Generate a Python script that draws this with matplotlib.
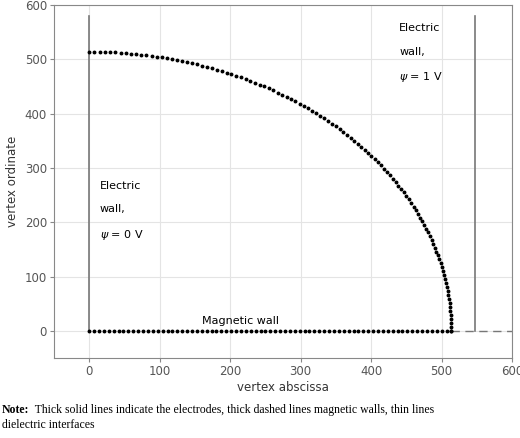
import numpy as np
import matplotlib
matplotlib.use("Agg")
import matplotlib.pyplot as plt

radius = 514
n_arc = 110
n_base = 75
electrode_left_x = 0
electrode_right_x = 548
electrode_top = 580
xticks = [0, 100, 200, 300, 400, 500, 600]
yticks = [0, 100, 200, 300, 400, 500, 600]

theta = np.linspace(0, np.pi / 2, n_arc)
arc_x = radius * np.cos(theta)
arc_y = radius * np.sin(theta)
base_x = np.linspace(0, radius, n_base)
base_y = np.zeros_like(base_x)

fig = plt.figure(figsize=(5.2, 4.38), dpi=100)
ax = fig.add_axes([54/520, 80/438, 458/520, 353/438])
ax.set_xlim(-50, 600)
ax.set_ylim(-50, 600)
ax.set_xticks(xticks)
ax.set_yticks(yticks)
ax.grid(True, color='#e4e4e4', lw=0.8)
ax.set_axisbelow(True)
for s in ax.spines.values():
    s.set_color('#888888')
ax.tick_params(colors='#555555', labelsize=8.5, length=3, color='#888888', pad=2)

ax.plot([electrode_left_x]*2, [0, electrode_top], color='#777777', lw=1.2)
ax.plot([electrode_right_x]*2, [0, electrode_top], color='#777777', lw=1.2)
ax.plot([radius, 600], [0, 0], color='#777777', lw=1.0, dashes=(6, 4))
ax.plot(base_x, base_y, 'o', color='black', ms=1.8)
ax.plot(arc_x, arc_y, 'o', color='black', ms=1.8)

ax.text(15, 220, "Electric\n\nwall,\n\n$\\psi$ = 0 V", fontsize=8, va='center', linespacing=1.2)
ax.text(440, 510, "Electric\n\nwall,\n\n$\\psi$ = 1 V", fontsize=8, va='center', linespacing=1.2)
ax.text(160, 12, "Magnetic wall", fontsize=8)
ax.set_xlabel("vertex abscissa", fontsize=8.5, color='#333333', labelpad=2)
ax.set_ylabel("vertex ordinate", fontsize=8.5, color='#333333')

fig.text(0.003, 0.078, "Note:", fontsize=8.5, family='Liberation Serif', weight='bold', va='top')
fig.text(0.003, 0.078, "           Thick solid lines indicate the electrodes, thick dashed lines magnetic walls, thin lines\ndielectric interfaces",
         fontsize=8.5, family='Liberation Serif', va='top', linespacing=1.3)
fig.savefig("out.png", dpi=100)
